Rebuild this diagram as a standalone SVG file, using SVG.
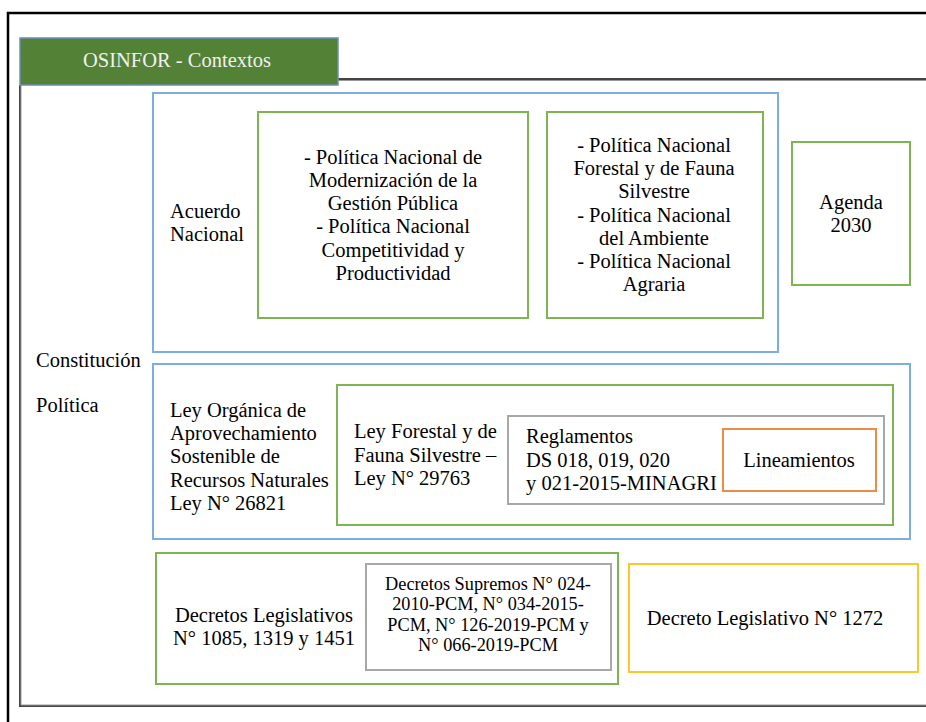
<svg xmlns="http://www.w3.org/2000/svg" width="926" height="722" viewBox="0 0 926 722">
<style>
text{font-family:"Liberation Serif","Times New Roman",serif;font-size:20.5px;fill:#000}
.c{text-anchor:middle}
.sm{font-size:18.3px}
.box{fill:none;stroke-width:2}
.blue{stroke:#7eaee0}
.green{stroke:#7cb552}
.gray{stroke:#a8a8a8}
.yellow{stroke:#ffc62a}
</style>
<rect width="926" height="722" fill="#fff"/>
<g id="frame">
<path d="M8,722 V13 H926" fill="none" stroke="#000" stroke-width="2.5"/>
<path d="M20,85 V706 H926 M338,79 H926" fill="none" stroke="#444" stroke-width="2"/>
<path d="M21,85 V705 H926 M338,80.5 H926" fill="none" stroke="#999" stroke-width="1"/>
</g>
<g id="header">
<rect x="20" y="38" width="318" height="47" fill="#538135" stroke="#6d8fb5" stroke-width="1.5"/>
<text x="177" y="67" class="c" style="fill:#f0f0f0">OSINFOR - Contextos</text>
</g>
<g id="constitucion">
<text x="36" y="367">Constitución</text>
<text x="36" y="412">Política</text>
</g>
<g id="acuerdo-nacional">
<rect class="box blue" x="153" y="93" width="625" height="259"/>
<text x="170" y="218">Acuerdo</text>
<text x="170" y="241">Nacional</text>
</g>
<g id="politicas-gestion">
<rect class="box green" x="258" y="112" width="270" height="206"/>
<text class="c" x="393" y="164">- Política Nacional de</text>
<text class="c" x="393" y="187">Modernización de la</text>
<text class="c" x="393" y="210">Gestión Pública</text>
<text class="c" x="393" y="233">- Política Nacional</text>
<text class="c" x="393" y="257">Competitividad y</text>
<text class="c" x="393" y="280">Productividad</text>
</g>
<g id="politicas-forestal">
<rect class="box green" x="547" y="112" width="216" height="206"/>
<text class="c" x="654" y="152">- Política Nacional</text>
<text class="c" x="654" y="175">Forestal y de Fauna</text>
<text class="c" x="654" y="198">Silvestre</text>
<text class="c" x="654" y="222">- Política Nacional</text>
<text class="c" x="654" y="245">del Ambiente</text>
<text class="c" x="654" y="268">- Política Nacional</text>
<text class="c" x="654" y="291">Agraria</text>
</g>
<g id="agenda">
<rect class="box green" x="792" y="142" width="118" height="143"/>
<text class="c" x="851" y="209">Agenda</text>
<text class="c" x="851" y="232">2030</text>
</g>
<g id="ley-organica">
<rect class="box blue" x="153" y="364" width="757" height="175"/>
<text x="170" y="417">Ley Orgánica de</text>
<text x="170" y="440">Aprovechamiento</text>
<text x="170" y="463">Sostenible de</text>
<text x="170" y="487">Recursos Naturales</text>
<text x="170" y="510">Ley N° 26821</text>
</g>
<g id="ley-forestal">
<rect class="box green" x="337" y="385" width="556" height="140"/>
<text x="354" y="438">Ley Forestal y de</text>
<text x="354" y="462">Fauna Silvestre –</text>
<text x="354" y="485">Ley N° 29763</text>
</g>
<g id="reglamentos">
<rect class="box gray" x="508" y="416" width="376" height="88"/>
<text x="526" y="443">Reglamentos</text>
<text x="526" y="467">DS 018, 019, 020</text>
<text x="526" y="490">y 021-2015-MINAGRI</text>
</g>
<g id="lineamientos">
<rect x="723" y="429" width="153" height="62" fill="#fff" stroke="#ef8a45" stroke-width="2"/>
<text class="c" x="799" y="467">Lineamientos</text>
</g>
<g id="decretos-legislativos">
<rect class="box green" x="156" y="553" width="462" height="131"/>
<text class="c" x="264" y="622">Decretos Legislativos</text>
<text class="c" x="264" y="645">N° 1085, 1319 y 1451</text>
</g>
<g id="decretos-supremos">
<rect class="box gray" x="366" y="564" width="245" height="106"/>
<text class="c sm" x="488" y="590">Decretos Supremos N° 024-</text>
<text class="c sm" x="488" y="610">2010-PCM, N° 034-2015-</text>
<text class="c sm" x="488" y="631">PCM, N° 126-2019-PCM y</text>
<text class="c sm" x="488" y="651">N° 066-2019-PCM</text>
</g>
<g id="decreto-1272">
<rect class="box yellow" x="629" y="564" width="289" height="108"/>
<text class="c" x="765" y="625">Decreto Legislativo N° 1272</text>
</g>
<g id="connectors"></g>
</svg>
